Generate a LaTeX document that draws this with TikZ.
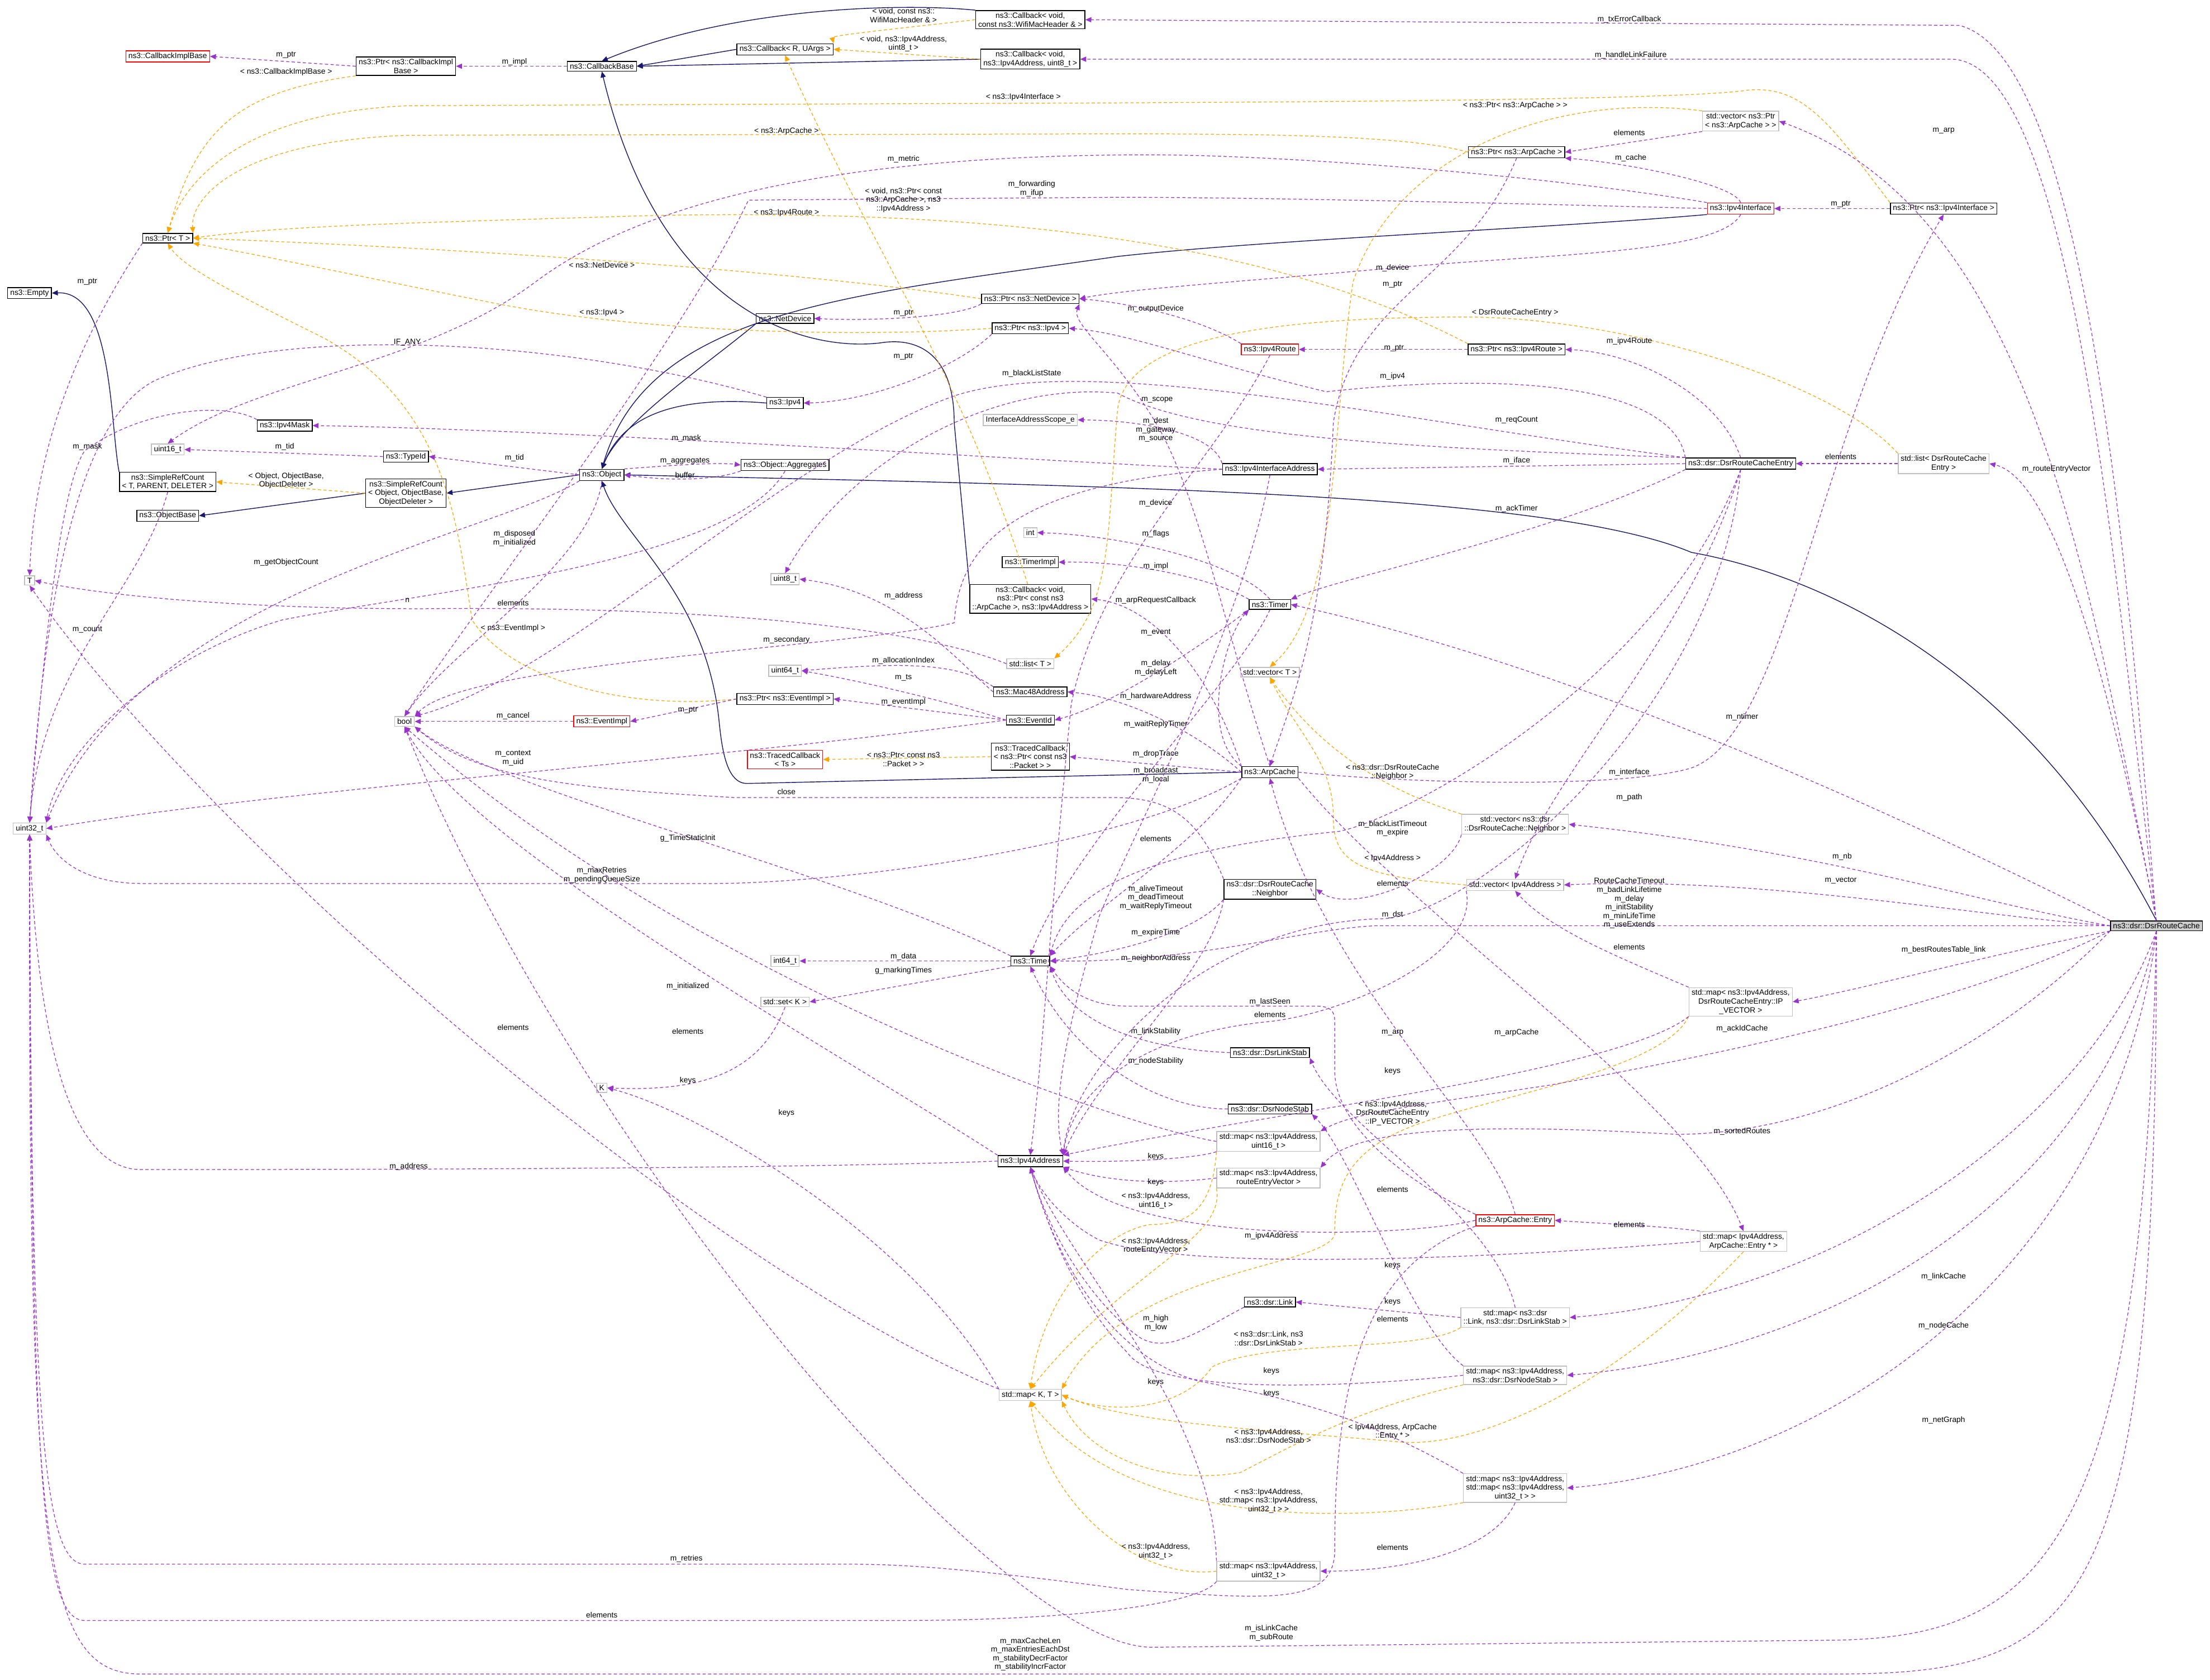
\documentclass[tikz,border=0pt]{standalone}
\usepackage{fontspec}
\setmainfont{Liberation Sans}
\usetikzlibrary{arrows.meta}
\definecolor{pur}{HTML}{9A32CD}
\definecolor{org}{HTML}{FFA500}
\definecolor{nav}{HTML}{191970}
\definecolor{gry}{HTML}{BFBFBF}
\newcommand{\nf}{\fontsize{3.9}{4.4}\selectfont}
\tikzset{
 box/.style={draw=black,line width=0.4pt,fill=white,align=center,inner xsep=1.3pt,inner ysep=1pt,font=\nf},
 gbox/.style={box,draw=gry},
 rbox/.style={box,draw=red},
 lbl/.style={align=center,inner sep=0pt,font=\nf},
 tip/.style={-{Triangle[length=3pt,width=2.6pt]}},
 use/.style={tip,draw=pur,dash pattern=on 1.6pt off 1.2pt,line width=0.35pt},
 tmpl/.style={tip,draw=org,dash pattern=on 1.6pt off 1.2pt,line width=0.35pt},
 inh/.style={tip,draw=nav,line width=0.4pt},
}
\begin{document}
\begin{tikzpicture}[x=0.025cm,y=-0.025cm]
\useasboundingbox (0,0) rectangle (1568,1192);
% nodes
\node[box] (cbWifi) at (731,14) {ns3::Callback< void,\\ const ns3::WifiMacHeader \& >};
\node[box] (cbRU) at (557,35) {ns3::Callback< R, UArgs >};
\node[box] (cbIpv4) at (731,42) {ns3::Callback< void,\\ ns3::Ipv4Address, uint8\_t >};
\node[box] (cbBase) at (427,47) {ns3::CallbackBase};
\node[box] (ptrCbImpl) at (288,47) {ns3::Ptr< ns3::CallbackImpl\\Base >};
\node[rbox] (cbImplBase) at (119,40) {ns3::CallbackImplBase};
\node[box] (ptrT) at (119,169) {ns3::Ptr< T >};
\node[box] (empty) at (21,208) {ns3::Empty};
\node[gbox] (vecPtrArp) at (1235,86) {std::vector< ns3::Ptr\\< ns3::ArpCache > >};
\node[box] (ptrArp) at (1076,108) {ns3::Ptr< ns3::ArpCache >};
\node[rbox] (ipv4If) at (1235,148) {ns3::Ipv4Interface};
\node[box] (ptrIpv4If) at (1379,148) {ns3::Ptr< ns3::Ipv4Interface >};
\node[box] (ptrNetDev) at (731,212) {ns3::Ptr< ns3::NetDevice >};
\node[box] (netDev) at (557,226) {ns3::NetDevice};
\node[box] (ptrIpv4) at (731,233) {ns3::Ptr< ns3::Ipv4 >};
\node[rbox] (ipv4Route) at (901,248) {ns3::Ipv4Route};
\node[box] (ptrIpv4Route) at (1076,248) {ns3::Ptr< ns3::Ipv4Route >};
\node[box] (ipv4) at (557,286) {ns3::Ipv4};
\node[gbox] (ifAddrScope) at (731,298) {InterfaceAddressScope\_e};
\node[box] (ipv4Mask) at (202,302) {ns3::Ipv4Mask};
\node[gbox] (uint16) at (119,319) {uint16\_t};
\node[box] (typeId) at (288,324) {ns3::TypeId};
\node[box] (dsrRCE) at (1235,329) {ns3::dsr::DsrRouteCacheEntry};
\node[gbox] (listDsrRCE) at (1379,329) {std::list< DsrRouteCache\\Entry >};
\node[box] (simpleRC1) at (119,342) {ns3::SimpleRefCount\\< T, PARENT, DELETER >};
\node[box] (simpleRC2) at (288,350) {ns3::SimpleRefCount\\< Object, ObjectBase,\\ObjectDeleter >};
\node[box] (object) at (427,337) {ns3::Object};
\node[box] (objAgg) at (557,330) {ns3::Object::Aggregates};
\node[box] (ipv4IfAddr) at (901,333) {ns3::Ipv4InterfaceAddress};
\node[box] (objBase) at (119,366) {ns3::ObjectBase};
\node[gbox] (T) at (21,412) {T};
\node[gbox] (int) at (731,378) {int};
\node[box] (timerImpl) at (731,399) {ns3::TimerImpl};
\node[gbox] (uint8) at (557,411) {uint8\_t};
\node[box] (cbArp) at (731,425) {ns3::Callback< void,\\ ns3::Ptr< const ns3\\::ArpCache >, ns3::Ipv4Address >};
\node[box] (timer) at (901,429) {ns3::Timer};
\node[gbox] (listT) at (731,471) {std::list< T >};
\node[gbox] (vecT) at (901,477) {std::vector< T >};
\node[gbox] (uint64) at (557,476) {uint64\_t};
\node[box] (mac48) at (731,491) {ns3::Mac48Address};
\node[box] (ptrEvImpl) at (557,496) {ns3::Ptr< ns3::EventImpl >};
\node[gbox] (bool) at (287,512) {bool};
\node[rbox] (evImpl) at (427,512) {ns3::EventImpl};
\node[box] (evId) at (731,511) {ns3::EventId};
\node[rbox] (tracedCb) at (557,539) {ns3::TracedCallback\\< Ts >};
\node[box] (tracedCbPkt) at (731,537) {ns3::TracedCallback\\< ns3::Ptr< const ns3\\::Packet > >};
\node[box] (arpCache) at (901,548) {ns3::ArpCache};
\node[gbox] (vecNeighbor) at (1075,585) {std::vector< ns3::dsr\\::DsrRouteCache::Neighbor >};
\node[gbox] (uint32) at (21,588) {uint32\_t};
\node[gbox] (vecIpv4) at (1075,628) {std::vector< Ipv4Address >};
\node[box] (neighbor) at (901,631) {ns3::dsr::DsrRouteCache\\::Neighbor};
\node[box,fill=gry!80] (dsrRouteCache) at (1530,657) {ns3::dsr::DsrRouteCache};
\node[gbox] (int64) at (557,682) {int64\_t};
\node[box] (time) at (731,682) {ns3::Time};
\node[gbox] (setK) at (557,711) {std::set< K >};
\node[gbox] (mapIpv4RCE) at (1235,711) {std::map< ns3::Ipv4Address,\\DsrRouteCacheEntry::IP\\\_VECTOR >};
\node[box] (dsrLinkStab) at (901,747) {ns3::dsr::DsrLinkStab};
\node[gbox] (K) at (427,772) {K};
\node[box] (dsrNodeStab) at (901,787) {ns3::dsr::DsrNodeStab};
\node[gbox] (mapU16) at (900,810) {std::map< ns3::Ipv4Address,\\uint16\_t >};
\node[box] (ipv4Addr) at (731,824) {ns3::Ipv4Address};
\node[gbox] (mapRev) at (900,836) {std::map< ns3::Ipv4Address,\\routeEntryVector >};
\node[rbox] (arpEntry) at (1075,866) {ns3::ArpCache::Entry};
\node[gbox] (mapArpEntry) at (1237,881) {std::map< Ipv4Address,\\ArpCache::Entry * >};
\node[box] (dsrLink) at (901,924) {ns3::dsr::Link};
\node[gbox] (mapLink) at (1075,935) {std::map< ns3::dsr\\::Link, ns3::dsr::DsrLinkStab >};
\node[gbox] (mapNodeStab) at (1075,976) {std::map< ns3::Ipv4Address,\\ns3::dsr::DsrNodeStab >};
\node[gbox] (mapK) at (731,990) {std::map< K, T >};
\node[gbox] (mapMap) at (1075,1056) {std::map< ns3::Ipv4Address,\\std::map< ns3::Ipv4Address,\\uint32\_t > >};
\node[gbox] (mapU32) at (900,1115) {std::map< ns3::Ipv4Address,\\uint32\_t >};

% inheritance
\draw[inh] (cbWifi.north west) .. controls (640,2) and (520,5) .. (cbBase.north);
\draw[inh] (cbRU.west) -- (cbBase.east);
\draw[inh] (cbIpv4.west) -- (cbBase.east);
\draw[inh] (cbArp.north west) -- (677,300) .. controls (677,250) and (650,240) .. (627,243) .. controls (580,250) and (470,230) .. (cbBase.south);
\draw[inh] (ipv4If.south west) .. controls (1100,162) and (900,170) .. (793,182) .. controls (600,210) and (460,220) .. (object.north);
\draw[inh] (netDev.south west) .. controls (500,260) and (440,300) .. (object.north);
\draw[inh] (ipv4.west) .. controls (470,280) and (440,300) .. (object.north);
\draw[inh] (arpCache.west) -- (530,556) .. controls (515,556) and (512,530) .. (510,510) .. controls (500,420) and (440,380) .. (object.south);
\draw[inh] (dsrRouteCache.north) .. controls (1440,480) and (1300,410) .. (1200,392) .. controls (1100,350) and (800,345) .. (object.east);
\draw[inh] (object.west) -- (simpleRC2.east);
\draw[inh] (simpleRC2.west) -- (objBase.east);
\draw[inh] (simpleRC1.north west) .. controls (78,300) and (80,206) .. (empty.east);

% templates
\draw[tmpl] (cbWifi.west) .. controls (640,20) and (590,25) .. (cbRU.north east);
\draw[tmpl] (cbIpv4.west) -- (cbRU.east);
\draw[tmpl] (cbArp.100) .. controls (680,260) and (620,180) .. (cbRU.south);
\draw[tmpl] (ptrCbImpl.south west) .. controls (170,65) and (140,90) .. (ptrT.north);
\draw[tmpl] (ptrIpv4If.north west) .. controls (1300,90) and (1280,60) .. (1240,64) .. controls (1200,70) and (1000,72) .. (790,73) -- (290,75) .. controls (170,80) and (130,130) .. (ptrT.north);
\draw[tmpl] (ptrArp.west) .. controls (1000,96) and (900,95) .. (790,95) -- (290,96) .. controls (170,100) and (135,140) .. (ptrT.north east);
\draw[tmpl] (ptrIpv4Route.north west) .. controls (900,170) and (700,148) .. (460,153) .. controls (300,158) and (200,160) .. (ptrT.east);
\draw[tmpl] (ptrNetDev.west) .. controls (550,190) and (300,175) .. (ptrT.east);
\draw[tmpl] (ptrIpv4.west) .. controls (600,240) and (450,235) .. (350,215) .. controls (250,195) and (180,180) .. (ptrT.south east);
\draw[tmpl] (ptrEvImpl.west) .. controls (440,505) and (360,480) .. (335,440) .. controls (325,380) and (320,290) .. (230,240) .. controls (170,210) and (130,190) .. (ptrT.south);
\draw[tmpl] (simpleRC2.west) -- (simpleRC1.east);
\draw[tmpl] (tracedCbPkt.west) -- (tracedCb.east);
\draw[tmpl] (vecPtrArp.north west) .. controls (1100,65) and (990,110) .. (960,200) .. controls (945,300) and (950,430) .. (vecT.north);
\draw[tmpl] (listDsrRCE.north west) .. controls (1300,270) and (1150,225) .. (1040,225) .. controls (900,225) and (800,240) .. (793,290) .. controls (785,380) and (790,430) .. (listT.north east);
\draw[tmpl] (vecNeighbor.north west) .. controls (980,560) and (935,530) .. (vecT.south);
\draw[tmpl] (vecIpv4.west) .. controls (960,622) and (946,610) .. (946,580) .. controls (946,540) and (920,520) .. (vecT.south);
\draw[tmpl] (mapIpv4RCE.south west) .. controls (1180,760) and (1050,780) .. (1000,800) .. controls (950,820) and (947,850) .. (947,876) .. controls (940,900) and (800,900) .. (mapK.north east);
\draw[tmpl] (mapU16.south west) .. controls (860,862) and (840,869) .. (816,869) .. controls (780,875) and (740,920) .. (mapK.north);
\draw[tmpl] (mapRev.south west) .. controls (870,880) and (800,900) .. (mapK.north);
\draw[tmpl] (mapLink.south west) .. controls (1010,960) and (900,950) .. (860,970) .. controls (840,1000) and (790,1005) .. (mapK.east);
\draw[tmpl] (mapNodeStab.south west) .. controls (960,1000) and (910,1030) .. (880,1045) .. controls (820,1055) and (770,1030) .. (mapK.south east);
\draw[tmpl] (mapArpEntry.south) .. controls (1150,980) and (1050,1030) .. (990,1023) .. controls (900,1015) and (800,1010) .. (mapK.east);
\draw[tmpl] (mapMap.south west) .. controls (960,1080) and (800,1085) .. (mapK.south);
\draw[tmpl] (mapU32.west) .. controls (800,1122) and (740,1060) .. (mapK.south);

% usage
\draw[use] (cbBase.west) -- (ptrCbImpl.east);
\draw[use] (ptrCbImpl.west) -- (cbImplBase.east);
\draw[use] (ptrT.south west) .. controls (70,220) and (25,300) .. (T.north);
\draw[use] (simpleRC1.south) .. controls (100,420) and (30,470) .. (uint32.north);
\draw[use] (ipv4Mask.north west) .. controls (160,285) and (100,290) .. (60,320) .. controls (40,350) and (28,500) .. (uint32.north);
\draw[use] (ipv4.north west) .. controls (400,240) and (200,230) .. (110,270) .. controls (50,300) and (30,450) .. (uint32.north);
\draw[use] (typeId.west) -- (uint16.east);
\draw[use] (object.west) -- (typeId.east);
\draw[use] (object.north east) .. controls (480,330) and (510,328) .. (objAgg.west);
\draw[use] (objAgg.south west) .. controls (510,340) and (480,342) .. (object.east);
\draw[use] (object.south) .. controls (420,400) and (320,460) .. (bool.north);
\draw[use] (object.south west) .. controls (350,380) and (100,420) .. (uint32.north east);
\draw[use] (objAgg.south) .. controls (520,400) and (300,420) .. (200,440) .. controls (100,470) and (40,540) .. (uint32.north east);
\draw[use] (listT.west) .. controls (650,445) and (500,430) .. (300,432) .. controls (150,432) and (60,420) .. (T.east);
\draw[use] (mapK.north west) .. controls (500,900) and (150,600) .. (T.south);
\draw[use] (ipv4If.north) .. controls (1230,130) and (1150,115) .. (ptrArp.south east);
\draw[use] (ipv4If.south) .. controls (1220,180) and (1100,180) .. (990,190) .. controls (880,200) and (800,205) .. (ptrNetDev.east);
\draw[use] (ipv4If.north west) .. controls (1100,125) and (900,108) .. (793,110) .. controls (600,112) and (460,140) .. (380,200) .. controls (300,260) and (180,270) .. (uint16.north);
\draw[use] (ipv4If.west) .. controls (1100,145) and (900,140) .. (793,140) -- (531,142) .. controls (480,250) and (330,440) .. (bool.north);
\draw[use] (ptrIpv4If.west) -- (ipv4If.east);
\draw[use] (vecPtrArp.south west) -- (ptrArp.east);
\draw[use] (ptrArp.south) .. controls (1040,200) and (960,210) .. (946,300) .. controls (940,450) and (915,500) .. (arpCache.north);
\draw[use] (ptrNetDev.south west) .. controls (680,225) and (620,228) .. (netDev.east);
\draw[use] (ptrIpv4.south west) .. controls (680,260) and (620,285) .. (ipv4.east);
\draw[use] (ptrIpv4Route.west) -- (ipv4Route.east);
\draw[use] (ipv4Route.north west) .. controls (850,225) and (800,215) .. (ptrNetDev.east);
\draw[use] (ipv4Route.south) .. controls (860,330) and (780,400) .. (760,500) .. controls (745,650) and (740,750) .. (ipv4Addr.north);
\draw[use] (dsrRCE.north) .. controls (1220,280) and (1160,250) .. (ptrIpv4Route.east);
\draw[use] (dsrRCE.north west) .. controls (1188,278) and (1089,262) .. (941,278) .. controls (857,258) and (800,236) .. (ptrIpv4.east);
\draw[use] (dsrRCE.west) -- (ipv4IfAddr.east);
\draw[use] (dsrRCE.north west) .. controls (1000,318) and (850,310) .. (793,279) .. controls (700,270) and (600,330) .. (uint8.north);
\draw[use] (dsrRCE.north west) .. controls (1000,300) and (780,250) .. (680,280) .. controls (560,320) and (400,480) .. (bool.north east);
\draw[use] (dsrRCE.south west) .. controls (1100,380) and (950,410) .. (timer.north east);
\draw[use] (dsrRCE.south) .. controls (1200,450) and (1100,550) .. (vecIpv4.north);
\draw[use] (dsrRCE.south) .. controls (1180,480) and (1000,580) .. (950,590) .. controls (850,600) and (760,620) .. (time.north east);
\draw[use] (dsrRCE.south) .. controls (1220,500) and (1050,650) .. (980,652) .. controls (850,655) and (760,760) .. (ipv4Addr.north east);
\draw[use] (listDsrRCE.west) -- (dsrRCE.east);
\draw[use] (ipv4IfAddr.north west) .. controls (860,305) and (800,298) .. (ifAddrScope.east);
\draw[use] (ipv4IfAddr.west) .. controls (700,325) and (400,305) .. (ipv4Mask.east);
\draw[use] (ipv4IfAddr.west) .. controls (700,345) and (680,400) .. (677,442) .. controls (600,460) and (330,470) .. (bool.north east);
\draw[use] (ipv4IfAddr.south) .. controls (880,450) and (800,600) .. (780,650) .. controls (760,720) and (745,780) .. (ipv4Addr.north east);
\draw[use] (timer.north west) .. controls (860,410) and (800,398) .. (timerImpl.east);
\draw[use] (timer.north) .. controls (880,400) and (800,380) .. (int.east);
\draw[use] (timer.south west) .. controls (850,460) and (790,500) .. (evId.east);
\draw[use] (timer.south) .. controls (880,480) and (760,600) .. (time.north);
\draw[use] (arpCache.north west) .. controls (860,480) and (820,430) .. (cbArp.east);
\draw[use] (arpCache.west) .. controls (850,520) and (800,495) .. (mac48.east);
\draw[use] (arpCache.north west) .. controls (850,520) and (870,450) .. (timer.south west);
\draw[use] (arpCache.west) -- (tracedCbPkt.east);
\draw[use] (arpCache.north) .. controls (870,450) and (850,350) .. (820,300) .. controls (790,250) and (760,230) .. (ptrNetDev.south east);
\draw[use] (arpCache.south west) .. controls (850,600) and (780,640) .. (time.north east);
\draw[use] (arpCache.south west) .. controls (800,600) and (600,627) .. (505,627) -- (101,627) .. controls (60,627) and (40,610) .. (uint32.south east);
\draw[use] (arpCache.east) .. controls (1000,556) and (1150,560) .. (1200,545) .. controls (1270,520) and (1290,300) .. (ptrIpv4If.south);
\draw[use] (arpCache.south east) .. controls (1000,650) and (1200,780) .. (mapArpEntry.north);
\draw[use] (arpEntry.north) .. controls (1060,800) and (940,700) .. (arpCache.south);
\draw[use] (arpEntry.west) .. controls (1000,878) and (800,885) .. (ipv4Addr.south east);
\draw[use] (arpEntry.north west) .. controls (1000,840) and (947,800) .. (947,760) -- (947,725) .. controls (947,714) and (940,714) .. (930,714) -- (800,714) .. controls (770,714) and (755,700) .. (time.south east);
\draw[use] (arpEntry.south west) .. controls (960,900) and (947,1000) .. (947,1100) .. controls (947,1140) and (900,1135) .. (800,1128) .. controls (700,1115) and (650,1110) .. (600,1110) -- (60,1110) .. controls (30,1110) and (22,1000) .. (uint32.south);
\draw[use] (mapArpEntry.north west) .. controls (1180,870) and (1130,868) .. (arpEntry.east);
\draw[use] (mapArpEntry.west) .. controls (1100,890) and (850,905) .. (780,880) .. controls (760,870) and (740,850) .. (ipv4Addr.south);
\draw[use] (vecIpv4.south west) .. controls (1050,680) and (950,720) .. (900,725) .. controls (800,735) and (760,780) .. (ipv4Addr.north east);
\draw[use] (vecNeighbor.south west) .. controls (1030,620) and (960,650) .. (neighbor.east);
\draw[use] (neighbor.south west) .. controls (850,660) and (800,675) .. (time.east);
\draw[use] (neighbor.south west) .. controls (860,690) and (780,760) .. (ipv4Addr.north east);
\draw[use] (neighbor.north west) .. controls (850,580) and (830,566) .. (790,566) -- (521,566) .. controls (420,560) and (340,555) .. (bool.south east);
\draw[use] (dsrLinkStab.west) .. controls (820,745) and (760,730) .. (time.south east);
\draw[use] (dsrNodeStab.west) .. controls (820,787) and (760,750) .. (time.south);
\draw[use] (dsrLink.south west) .. controls (850,945) and (830,960) .. (810,950) .. controls (780,930) and (745,880) .. (ipv4Addr.south);
\draw[use] (mapU16.south west) .. controls (850,822) and (800,825) .. (ipv4Addr.east);
\draw[use] (mapRev.west) .. controls (830,840) and (790,840) .. (ipv4Addr.south east);
\draw[use] (mapLink.west) -- (dsrLink.east);
\draw[use] (mapLink.north) .. controls (1060,860) and (950,800) .. (dsrLinkStab.south east);
\draw[use] (mapNodeStab.north west) .. controls (1000,940) and (960,820) .. (dsrNodeStab.south east);
\draw[use] (mapNodeStab.west) .. controls (950,985) and (820,990) .. (800,960) .. controls (760,920) and (740,860) .. (ipv4Addr.south);
\draw[use] (mapMap.north west) .. controls (960,1000) and (900,990) .. (850,980) .. controls (780,960) and (745,880) .. (ipv4Addr.south);
\draw[use] (mapMap.south) .. controls (1060,1100) and (1000,1115) .. (mapU32.east);
\draw[use] (mapU32.north west) .. controls (860,1000) and (760,900) .. (ipv4Addr.south);
\draw[use] (mapU32.south west) .. controls (850,1140) and (750,1150) .. (640,1150) -- (60,1150) .. controls (30,1150) and (22,1050) .. (uint32.south);
\draw[use] (mapK.north west) .. controls (650,880) and (500,790) .. (K.east);
\draw[use] (setK.south) .. controls (540,760) and (500,775) .. (K.east);
\draw[use] (mapU16.west) .. controls (800,800) and (500,700) .. (bool.south);
\draw[use] (time.west) -- (int64.east);
\draw[use] (time.south west) -- (setK.east);
\draw[use] (time.north west) .. controls (600,620) and (350,560) .. (bool.south east);
\draw[use] (ipv4Addr.north west) .. controls (600,750) and (330,600) .. (bool.south);
\draw[use] (ipv4Addr.west) .. controls (600,828) and (400,830) .. (100,830) .. controls (40,830) and (25,700) .. (uint32.south);
\draw[use] (mac48.west) .. controls (680,470) and (640,420) .. (uint8.east);
\draw[use] (mac48.north west) .. controls (680,470) and (640,470) .. (uint64.east);
\draw[use] (evId.west) .. controls (680,500) and (620,485) .. (uint64.east);
\draw[use] (evId.west) -- (ptrEvImpl.east);
\draw[use] (evId.west) .. controls (500,540) and (200,560) .. (uint32.east);
\draw[use] (ptrEvImpl.west) -- (evImpl.east);
\draw[use] (evImpl.west) -- (bool.east);
\draw[use] (dsrRouteCache.95) .. controls (1510,400) and (1480,40) .. (1390,18) -- (cbWifi.east);
\draw[use] (dsrRouteCache.93) .. controls (1500,400) and (1470,45) .. (1385,42) -- (cbIpv4.east);
\draw[use] (dsrRouteCache.north) .. controls (1480,400) and (1440,150) .. (vecPtrArp.east);
\draw[use] (dsrRouteCache.north) .. controls (1500,500) and (1460,340) .. (listDsrRCE.east);
\draw[use] (dsrRouteCache.north west) .. controls (1300,555) and (1100,470) .. (timer.east);
\draw[use] (dsrRouteCache.west) .. controls (1400,640) and (1300,605) .. (vecNeighbor.east);
\draw[use] (dsrRouteCache.west) .. controls (1400,650) and (1250,622) .. (vecIpv4.east);
\draw[use] (dsrRouteCache.west) -- (975,657) .. controls (920,660) and (850,683) .. (time.east);
\draw[use] (dsrRouteCache.south west) .. controls (1400,680) and (1330,700) .. (mapIpv4RCE.east);
\draw[use] (dsrRouteCache.south west) .. controls (1400,710) and (1238,745) .. (1100,770) .. controls (1000,785) and (960,790) .. (mapU16.north east);
\draw[use] (dsrRouteCache.south west) .. controls (1420,740) and (1300,805) .. (1189,805) .. controls (1050,797) and (960,800) .. (mapRev.north east);
\draw[use] (dsrRouteCache.south) .. controls (1480,800) and (1300,920) .. (mapLink.east);
\draw[use] (dsrRouteCache.south) .. controls (1490,850) and (1300,960) .. (mapNodeStab.east);
\draw[use] (dsrRouteCache.south) .. controls (1500,900) and (1300,1040) .. (mapMap.east);
\draw[use] (dsrRouteCache.south) .. controls (1520,1100) and (1450,1162) .. (1300,1164) -- (816,1169) .. controls (700,1165) and (400,800) .. (bool.south);
\draw[use] (dsrRouteCache.south) .. controls (1530,1150) and (1480,1188) .. (1300,1188) -- (100,1188) .. controls (30,1188) and (20,1100) .. (uint32.south);
\draw[use] (mapIpv4RCE.north west) .. controls (1150,680) and (1100,660) .. (vecIpv4.south);
\draw[use] (mapIpv4RCE.south west) .. controls (1150,760) and (900,790) .. (ipv4Addr.north east);

% labels
\node[lbl] at (641,11) {< void, const ns3::\\WifiMacHeader \& >};
\node[lbl] at (641,31) {< void, ns3::Ipv4Address,\\uint8\_t >};
\node[lbl] at (203,39) {m\_ptr};
\node[lbl] at (203,51) {< ns3::CallbackImplBase >};
\node[lbl] at (365,44) {m\_impl};
\node[lbl] at (726,69) {< ns3::Ipv4Interface >};
\node[lbl] at (1075,75) {< ns3::Ptr< ns3::ArpCache > >};
\node[lbl] at (558,93) {< ns3::ArpCache >};
\node[lbl] at (1156,94) {elements};
\node[lbl] at (1379,93) {m\_arp};
\node[lbl] at (641,113) {m\_metric};
\node[lbl] at (1157,112) {m\_cache};
\node[lbl] at (732,134) {m\_forwarding\\m\_ifup};
\node[lbl] at (641,142) {< void, ns3::Ptr< const\\ns3::ArpCache >, ns3\\::Ipv4Address >};
\node[lbl] at (1306,145) {m\_ptr};
\node[lbl] at (558,151) {< ns3::Ipv4Route >};
\node[lbl] at (1156,14) {m\_txErrorCallback};
\node[lbl] at (1157,39) {m\_handleLinkFailure};
\node[lbl] at (427,188) {< ns3::NetDevice >};
\node[lbl] at (988,190) {m\_device};
\node[lbl] at (62,200) {m\_ptr};
\node[lbl] at (988,202) {m\_ptr};
\node[lbl] at (820,219) {m\_outputDevice};
\node[lbl] at (427,222) {< ns3::Ipv4 >};
\node[lbl] at (641,222) {m\_ptr};
\node[lbl] at (1075,222) {< DsrRouteCacheEntry >};
\node[lbl] at (1156,242) {m\_ipv4Route};
\node[lbl] at (289,243) {IF\_ANY};
\node[lbl] at (989,247) {m\_ptr};
\node[lbl] at (641,253) {m\_ptr};
\node[lbl] at (732,265) {m\_blackListState};
\node[lbl] at (988,267) {m\_ipv4};
\node[lbl] at (821,284) {m\_scope};
\node[lbl] at (1076,298) {m\_reqCount};
\node[lbl] at (820,305) {m\_dest\\m\_gateway\\m\_source};
\node[lbl] at (487,311) {m\_mask};
\node[lbl] at (62,317) {m\_mask};
\node[lbl] at (202,317) {m\_tid};
\node[lbl] at (365,325) {m\_tid};
\node[lbl] at (1076,327) {m\_iface};
\node[lbl] at (1306,324) {elements};
\node[lbl] at (1459,333) {m\_routeEntryVector};
\node[lbl] at (486,327) {m\_aggregates};
\node[lbl] at (486,337) {buffer};
\node[lbl] at (203,341) {< Object, ObjectBase,\\ObjectDeleter >};
\node[lbl] at (820,357) {m\_device};
\node[lbl] at (1076,361) {m\_ackTimer};
\node[lbl] at (365,382) {m\_disposed\\m\_initialized};
\node[lbl] at (820,379) {m\_flags};
\node[lbl] at (203,399) {m\_getObjectCount};
\node[lbl] at (820,402) {m\_impl};
\node[lbl] at (289,426) {n};
\node[lbl] at (364,428) {elements};
\node[lbl] at (641,423) {m\_address};
\node[lbl] at (820,426) {m\_arpRequestCallback};
\node[lbl] at (62,447) {m\_count};
\node[lbl] at (364,446) {< ns3::EventImpl >};
\node[lbl] at (820,449) {m\_event};
\node[lbl] at (558,454) {m\_secondary};
\node[lbl] at (641,469) {m\_allocationIndex};
\node[lbl] at (820,474) {m\_delay\\m\_delayLeft};
\node[lbl] at (641,481) {m\_ts};
\node[lbl] at (820,494) {m\_hardwareAddress};
\node[lbl] at (641,498) {m\_eventImpl};
\node[lbl] at (488,504) {m\_ptr};
\node[lbl] at (364,508) {m\_cancel};
\node[lbl] at (1236,509) {m\_ntimer};
\node[lbl] at (820,514) {m\_waitReplyTimer};
\node[lbl] at (820,535) {m\_dropTrace};
\node[lbl] at (364,538) {m\_context\\m\_uid};
\node[lbl] at (641,539) {< ns3::Ptr< const ns3\\::Packet > >};
\node[lbl] at (988,548) {< ns3::dsr::DsrRouteCache\\::Neighbor >};
\node[lbl] at (1156,548) {m\_interface};
\node[lbl] at (820,550) {m\_broadcast\\m\_local};
\node[lbl] at (558,562) {close};
\node[lbl] at (1156,566) {m\_path};
\node[lbl] at (988,588) {m\_blackListTimeout\\m\_expire};
\node[lbl] at (488,595) {g\_TimeStaticInit};
\node[lbl] at (820,595) {elements};
\node[lbl] at (1307,608) {m\_nb};
\node[lbl] at (988,609) {< Ipv4Address >};
\node[lbl] at (427,621) {m\_maxRetries\\m\_pendingQueueSize};
\node[lbl] at (1306,625) {m\_vector};
\node[lbl] at (988,627) {elements};
\node[lbl] at (820,637) {m\_aliveTimeout\\m\_deadTimeout\\m\_waitReplyTimeout};
\node[lbl] at (1156,641) {RouteCacheTimeout\\m\_badLinkLifetime\\m\_delay\\m\_initStability\\m\_minLifeTime\\m\_useExtends};
\node[lbl] at (988,649) {m\_dst};
\node[lbl] at (820,662) {m\_expireTime};
\node[lbl] at (1156,672) {elements};
\node[lbl] at (1379,674) {m\_bestRoutesTable\_link};
\node[lbl] at (641,679) {m\_data};
\node[lbl] at (820,680) {m\_neighborAddress};
\node[lbl] at (641,689) {g\_markingTimes};
\node[lbl] at (488,700) {m\_initialized};
\node[lbl] at (901,711) {m\_lastSeen};
\node[lbl] at (901,720) {elements};
\node[lbl] at (364,729) {elements};
\node[lbl] at (488,732) {elements};
\node[lbl] at (1236,730) {m\_ackIdCache};
\node[lbl] at (820,732) {m\_linkStability};
\node[lbl] at (988,733) {m\_arp};
\node[lbl] at (1076,733) {m\_arpCache};
\node[lbl] at (820,753) {m\_nodeStability};
\node[lbl] at (988,760) {keys};
\node[lbl] at (488,767) {keys};
\node[lbl] at (988,790) {< ns3::Ipv4Address,\\DsrRouteCacheEntry\\::IP\_VECTOR >};
\node[lbl] at (558,790) {keys};
\node[lbl] at (1236,803) {m\_sortedRoutes};
\node[lbl] at (820,821) {keys};
\node[lbl] at (290,828) {m\_address};
\node[lbl] at (820,839) {keys};
\node[lbl] at (988,844) {elements};
\node[lbl] at (820,852) {< ns3::Ipv4Address,\\uint16\_t >};
\node[lbl] at (1156,869) {elements};
\node[lbl] at (902,877) {m\_ipv4Address};
\node[lbl] at (820,884) {< ns3::Ipv4Address,\\routeEntryVector >};
\node[lbl] at (988,898) {keys};
\node[lbl] at (1379,906) {m\_linkCache};
\node[lbl] at (988,924) {keys};
\node[lbl] at (988,936) {elements};
\node[lbl] at (820,939) {m\_high\\m\_low};
\node[lbl] at (1379,941) {m\_nodeCache};
\node[lbl] at (900,950) {< ns3::dsr::Link, ns3\\::dsr::DsrLinkStab >};
\node[lbl] at (902,973) {keys};
\node[lbl] at (820,981) {keys};
\node[lbl] at (902,989) {keys};
\node[lbl] at (1379,1008) {m\_netGraph};
\node[lbl] at (988,1016) {< Ipv4Address, ArpCache\\::Entry * >};
\node[lbl] at (900,1019) {< ns3::Ipv4Address,\\ns3::dsr::DsrNodeStab >};
\node[lbl] at (900,1065) {< ns3::Ipv4Address,\\std::map< ns3::Ipv4Address,\\uint32\_t > >};
\node[lbl] at (988,1098) {elements};
\node[lbl] at (820,1101) {< ns3::Ipv4Address,\\uint32\_t >};
\node[lbl] at (487,1106) {m\_retries};
\node[lbl] at (427,1146) {elements};
\node[lbl] at (902,1159) {m\_isLinkCache\\m\_subRoute};
\node[lbl] at (731,1174) {m\_maxCacheLen\\m\_maxEntriesEachDst\\m\_stabilityDecrFactor\\m\_stabilityIncrFactor};
\end{tikzpicture}
\end{document}
